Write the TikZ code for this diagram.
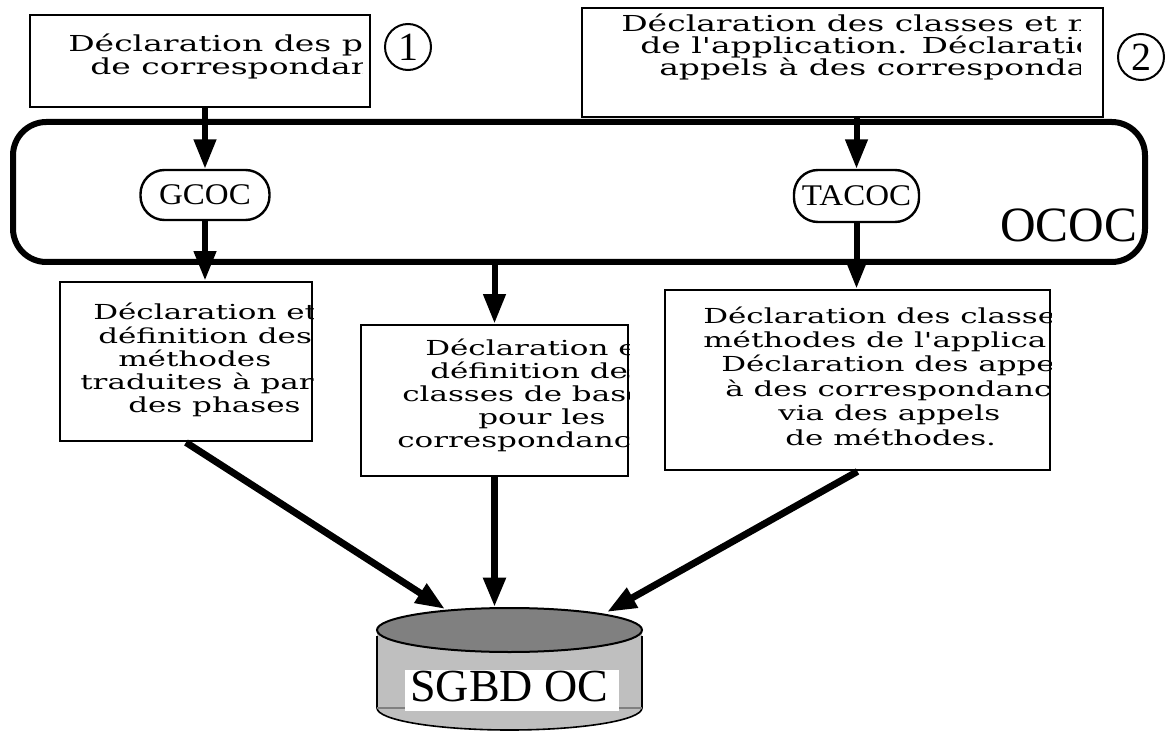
\documentclass[tikz,border=0pt]{standalone}
\usepackage{fontspec}
\newfontfamily\boxfont{DejaVu Serif}[FakeStretch=1.5]
\newfontfamily\tagfont{Liberation Serif}[FakeStretch=1.1]
\newfontfamily\bigfont{Liberation Serif}
\usetikzlibrary{arrows.meta}

\begin{document}
\begin{tikzpicture}[x=0.75pt, y=-0.75pt,
  box/.style={draw, line width=2.2pt, inner sep=0pt},
  txt/.style={anchor=base west, inner sep=0pt, font=\boxfont\fontsize{15.5}{17}\selectfont},
  toptxt/.style={txt, font=\boxfont\fontsize{16.5}{17}\selectfont},
  tag/.style={draw, line width=1.8pt, rounded corners=18pt, inner sep=0pt,
    font=\tagfont\fontsize{22.5}{22.5}\selectfont},
  num/.style={draw, circle, line width=1.5pt, minimum size=34.5pt, inner sep=0pt,
    font=\bigfont\fontsize{30}{30}\selectfont},
  arr/.style={line width=4.5pt, -{Triangle[length=22pt, width=16pt]}},
]
  \useasboundingbox (0,0) rectangle (1168,731);
  \node[draw, line width=4.5pt, rounded corners=25pt, inner sep=0pt,
    minimum width=849pt, minimum height=105pt] (ococ) at (579,192) {};
  \begin{scope}
    \clip (990,200) rectangle (1135,255);
    \node[anchor=base west, inner sep=0pt, font=\bigfont\fontsize{37}{37}\selectfont]
      (ocl) at (1000,242) {OCOC};
  \end{scope}

  \node[box, minimum width=255pt, minimum height=69pt] (b1) at (200,61) {};
  \node[box, minimum width=390.75pt, minimum height=81.75pt] (b2) at (842.5,62.5) {};
  \node[box, minimum width=189pt, minimum height=119.25pt] (b3) at (186,361.5) {};
  \node[box, minimum width=200.25pt, minimum height=113.25pt] (b4) at (494.5,400.5) {};
  \node[box, minimum width=288.75pt, minimum height=135pt] (b5) at (857.5,380) {};
  \node[num] (n1) at (408,47) {1};
  \node[num] (n2) at (1141,57) {2};
  \node[tag, minimum width=96.75pt, minimum height=37.5pt] (gcoc) at (205,195) {GCOC};
  \node[tag, minimum width=93.75pt, minimum height=39pt] (tacoc) at (856.5,196) {TACOC};

  \begin{scope}
    \clip (b1.south west) rectangle ([xshift=-6.75pt]b1.north east);
    \foreach \x/\ln [count=\i from 0] in {68/Déclaration des ph, 90/de correspondan}
      \node[toptxt] (t1-\i) at (\x,52+23*\i) {\ln};
  \end{scope}
  \begin{scope}
    \clip (b2.south west) rectangle ([xshift=-18pt]b2.north east);
    \foreach \x/\ln [count=\i from 0] in {621/Déclaration des classes et m,
        640/de l'application. Déclaration, 659/appels à des correspondan}
      \node[toptxt] (t2-\i) at (\x,32+22*\i) {\ln};
  \end{scope}
  \begin{scope}
    \clip (b3.south west) rectangle (b3.north east);
    \foreach \x/\ln [count=\i from 0] in {93/Déclaration et, 98/définition des,
        118/méthodes, 80/traduites à par, 128/des phases}
      \node[txt] (t3-\i) at (\x,320+23.2*\i) {\ln};
  \end{scope}
  \begin{scope}
    \clip (b4.south west) rectangle (b4.north east);
    \foreach \x/\ln [count=\i from 0] in {425/Déclaration et, 430/définition des,
        402/classes de base, 478/pour les, 397/correspondanc}
      \node[txt] (t4-\i) at (\x,355+23*\i) {\ln};
  \end{scope}
  \begin{scope}
    \clip (b5.south west) rectangle (b5.north east);
    \foreach \x/\ln [count=\i from 0] in {703/Déclaration des classe,
        703/méthodes de l'applica, 721/Déclaration des appe,
        725/à des correspondanc, 778/via des appels, 785/de méthodes.}
      \node[txt] (t5-\i) at (\x,323+24.4*\i) {\ln};
  \end{scope}

  % base de donnees
  \coordinate (db) at (509.5,630);
  \fill[lightgray] (377,630) -- (377,708) arc (180:0:132.5 and 22) -- (642,630) -- cycle;
  \draw[line width=1.2pt] (377,636) -- (377,708) arc (180:0:132.5 and 22) -- (642,636);
  \draw[gray, line width=0.8pt] (377,708) -- (642,708);
  \filldraw[fill=gray, line width=1.5pt] (db) ellipse (132.5 and 22);
  \node[fill=white, inner sep=0pt, minimum width=160.5pt, minimum height=30.75pt]
    (lab) at (512,690.5) {};
  \begin{scope}
    \clip (lab.south west) rectangle (lab.north east);
    \node[anchor=base west, inner sep=0pt, font=\bigfont\fontsize{34.5}{34.5}\selectfont]
      (sgbd) at (410,701) {SGBD OC};
  \end{scope}
  \coordinate (dbl) at (445,609);
  \coordinate (dbm) at (497,607);
  \coordinate (dbr) at (607,612);

  \draw[arr] (b1.south -| gcoc) -- (gcoc);
  \draw[arr] (gcoc) -- (gcoc |- b3.north);
  \draw[arr] (b2.south -| tacoc) -- (tacoc);
  \draw[arr] (tacoc) -- (tacoc |- b5.north);
  \draw[arr] (ococ.south -| b4) -- (b4);
  \draw[arr, line width=5.2pt] (b3.south) -- (dbl);
  \draw[arr, line width=5.2pt] (b4) -- (b4 |- dbm);
  \draw[arr, line width=5.2pt] (b5.south) -- (dbr);
\end{tikzpicture}
\end{document}
